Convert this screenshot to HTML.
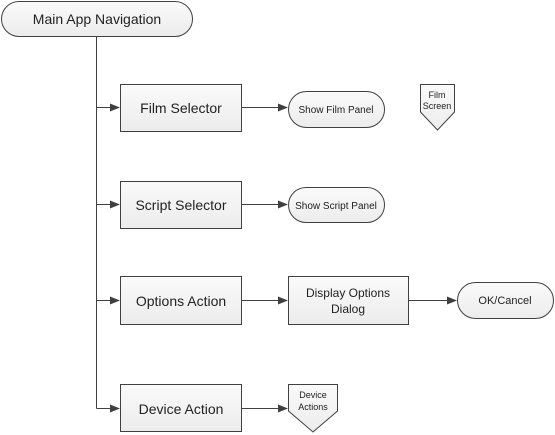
<!DOCTYPE html>
<html><head><style>body{margin:0;background:#fff}svg{display:block}text{font-family:"Liberation Sans",sans-serif;fill:#222}</style></head><body>
<svg width="555" height="435" viewBox="0 0 555 435" xmlns="http://www.w3.org/2000/svg">
<defs>
<linearGradient id="g" x1="0" y1="0" x2="0" y2="1"><stop offset="0" stop-color="#fafafa"/><stop offset="1" stop-color="#ececec"/></linearGradient>
<marker id="a" markerWidth="10" markerHeight="8" refX="9" refY="4" orient="auto" markerUnits="userSpaceOnUse"><path d="M0,0 L10,4 L0,8 z" fill="#404040"/></marker>
</defs>
<g stroke="#404040" stroke-width="1" fill="url(#g)">
<rect x="1.5" y="1.5" width="191" height="35" rx="17.5"/>
<rect x="120.5" y="84.5" width="121" height="47"/>
<rect x="288.5" y="91.5" width="96" height="36" rx="18"/>
<path d="M420.5,84.5 H454.5 V112 L437.5,130 L420.5,112 Z"/>
<rect x="120.5" y="181.5" width="121" height="47"/>
<rect x="288.5" y="187.5" width="96" height="35" rx="17.5"/>
<rect x="120.5" y="276.5" width="121" height="48"/>
<rect x="288.5" y="276.5" width="120" height="48"/>
<rect x="457.5" y="282.5" width="96" height="36" rx="18"/>
<rect x="120.5" y="384.5" width="121" height="47"/>
<path d="M288.5,384.5 H337.5 V411 L313,432 L288.5,411 Z"/>
</g>
<g stroke="#404040" stroke-width="1" fill="none">
<path d="M96.5,37 V408.5"/>
<path d="M96.5,107.5 H119" marker-end="url(#a)"/>
<path d="M96.5,204.5 H119" marker-end="url(#a)"/>
<path d="M96.5,300.5 H119" marker-end="url(#a)"/>
<path d="M96.5,408.5 H119" marker-end="url(#a)"/>
<path d="M241.5,107.5 H287" marker-end="url(#a)"/>
<path d="M241.5,204.5 H287" marker-end="url(#a)"/>
<path d="M241.5,300.5 H287" marker-end="url(#a)"/>
<path d="M408.5,300.5 H456" marker-end="url(#a)"/>
<path d="M241.5,408.5 H287" marker-end="url(#a)"/>
</g>
<g text-anchor="middle">
<text x="97" y="24" font-size="14">Main App Navigation</text>
<text x="181" y="113" font-size="14">Film Selector</text>
<text x="336" y="113" font-size="10">Show Film Panel</text>
<text x="437" y="98" font-size="9">Film</text>
<text x="437" y="109" font-size="9">Screen</text>
<text x="181" y="210" font-size="14">Script Selector</text>
<text x="336" y="209" font-size="10">Show Script Panel</text>
<text x="181" y="306" font-size="14">Options Action</text>
<text x="348" y="297" font-size="12">Display Options</text>
<text x="348" y="313" font-size="12">Dialog</text>
<text x="505" y="304" font-size="11">OK/Cancel</text>
<text x="181" y="414" font-size="14">Device Action</text>
<text x="313" y="398" font-size="9">Device</text>
<text x="313" y="410" font-size="9">Actions</text>
</g>
</svg>
</body></html>
